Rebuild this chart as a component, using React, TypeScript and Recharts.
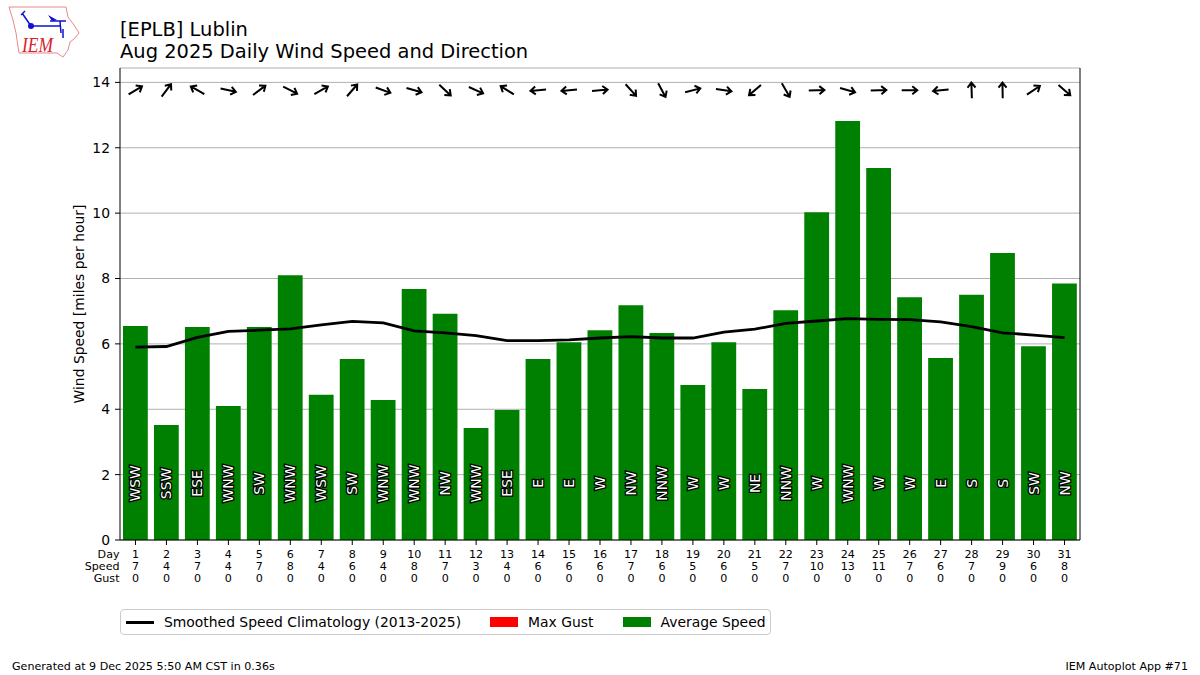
import React from 'react';
import { ComposedChart, Bar, Line, XAxis, YAxis, CartesianGrid, Legend } from 'recharts';

const FONT = '"DejaVu Sans", sans-serif';

const days = [1, 2, 3, 4, 5, 6, 7, 8, 9, 10, 11, 12, 13, 14, 15, 16, 17, 18, 19, 20, 21, 22, 23, 24, 25, 26, 27, 28, 29, 30, 31];
const avgSpeed = [6.55, 3.52, 6.52, 4.1, 6.52, 8.1, 4.44, 5.54, 4.28, 7.68, 6.92, 3.43, 3.98, 5.54, 6.05, 6.42, 7.18, 6.33, 4.74, 6.05, 4.62, 7.03, 10.03, 12.82, 11.38, 7.43, 5.57, 7.5, 8.78, 5.93, 7.85];
const maxGust = [0, 0, 0, 0, 0, 0, 0, 0, 0, 0, 0, 0, 0, 0, 0, 0, 0, 0, 0, 0, 0, 0, 0, 0, 0, 0, 0, 0, 0, 0, 0];
const climatology = [5.9, 5.92, 6.2, 6.38, 6.42, 6.46, 6.58, 6.69, 6.64, 6.4, 6.34, 6.25, 6.1, 6.1, 6.12, 6.18, 6.22, 6.18, 6.18, 6.36, 6.45, 6.63, 6.7, 6.77, 6.75, 6.74, 6.67, 6.53, 6.34, 6.27, 6.19];
const speedRow = [7, 4, 7, 4, 7, 8, 4, 6, 4, 8, 7, 3, 4, 6, 6, 6, 7, 6, 5, 6, 5, 7, 10, 13, 11, 7, 6, 7, 9, 6, 8];
const gustRow = [0, 0, 0, 0, 0, 0, 0, 0, 0, 0, 0, 0, 0, 0, 0, 0, 0, 0, 0, 0, 0, 0, 0, 0, 0, 0, 0, 0, 0, 0, 0];
const dirLabels = ['WSW', 'SSW', 'ESE', 'WNW', 'SW', 'WNW', 'WSW', 'SW', 'WNW', 'WNW', 'NW', 'WNW', 'ESE', 'E', 'E', 'W', 'NW', 'NNW', 'W', 'W', 'NE', 'NNW', 'W', 'WNW', 'W', 'W', 'E', 'S', 'S', 'SW', 'NW'];
// heading of each arrow, degrees counter-clockwise from east
const arrowAngles = [31, 53, 150, -12, 37, -27, 30, 49, -20, -16, -43, -24, 148, 185, 185, 5, -48, -62, 14, -8, 220, -60, 2, -16, 2, 0, 186, 92, 91, 34, -41];
const yTicks = [0, 2, 4, 6, 8, 10, 12, 14];
const rowNames = ['Day', 'Speed', 'Gust'];
const legendOrder = ['Smoothed Speed Climatology (2013-2025)', 'Max Gust', 'Average Speed'];

const Y_MAX = 14.44;
const ARROW_Y = 13.76;
const LABEL_Y = 1.73;

const data = days.map((day, i) => ({
  day,
  avg: avgSpeed[i],
  gust: maxGust[i],
  clim: climatology[i],
  speedRow: speedRow[i],
  gustRow: gustRow[i],
  dir: dirLabels[i],
  angle: arrowAngles[i],
  arrowY: ARROW_Y,
  labelY: LABEL_Y,
}));

const DayTick = (props: any) => {
  const { x, y, index, payload } = props;
  const row = data[index];
  const vals = [payload.value, row.speedRow, row.gustRow];
  return (
    <g fontFamily={FONT} fontSize={11.1} fill="#000">
      {vals.map((v, i) => (
        <text key={i} x={x} y={y + 11 + i * 12} textAnchor="middle">{v}</text>
      ))}
      {index === 0 && rowNames.map((n, i) => (
        <text key={n} x={119.5} y={y + 11 + i * 12} textAnchor="end">{n}</text>
      ))}
    </g>
  );
};

const Arrow = (props: any) => {
  const { cx, cy, index, payload } = props;
  return (
    <g key={`arrow-${index}`} transform={`translate(${cx},${cy}) rotate(${-payload.angle})`}>
      <path d="M-8 0 L7.6 0 M2.6 -4 L7.6 0 L2.6 4" fill="none" stroke="#000" strokeWidth={2} />
    </g>
  );
};

const DirLabel = (props: any) => {
  const { cx, cy, index, payload } = props;
  return (
    <text
      key={`dir-${index}`}
      transform={`translate(${cx},${cy}) rotate(-90)`}
      textAnchor="middle"
      dominantBaseline="central"
      fontFamily={FONT}
      fontSize={13.9}
      fill="#fff"
      stroke="#000"
      strokeWidth={2.6}
      paintOrder="stroke"
    >
      {payload.dir}
    </text>
  );
};

const LegendBox = ({ payload }: any) => {
  const items = legendOrder.map((n) => (payload || []).find((p: any) => p.value === n)).filter(Boolean);
  return (
    <div style={{ display: 'flex', alignItems: 'center', height: 24, width: 649, background: '#fff', border: '1px solid #ccc', borderRadius: 4, fontFamily: FONT, fontSize: 13.9, color: '#000', whiteSpace: 'nowrap' }}>
      {items.map((p: any, i: number) => (
        <div key={p.value} style={{ display: 'flex', alignItems: 'center', marginLeft: i === 0 ? 5 : 29 }}>
          {i === 0
            ? <div style={{ width: 28, height: 3, background: '#000' }} />
            : <div style={{ width: 28, height: 10, background: p.color }} />}
          <span style={{ marginLeft: 10 }}>{p.value}</span>
        </div>
      ))}
    </div>
  );
};

const Logo = () => (
  <svg width={90} height={62} style={{ position: 'absolute', left: 0, top: 0 }}>
    <path d="M9 7 L66 7 L68 17 L74 25 L79 33 L74 39 L70 42 L68 50 L63 57 L57 53 L19 53 L16 33 L13 20 Z" fill="#fff" stroke="#e58a8a" strokeWidth={1} />
    <path d="M31 26 L60 26 M31 26 L22 13 M21 15 L25 11 M50 21 L66 21 M60 21 L61 33 M63 29 L63 38" fill="none" stroke="#1010d0" strokeWidth={1.5} />
    <path d="M48 15 L57 20 L52 21 Z" fill="#1010d0" />
    <circle cx={31} cy={26} r={3} fill="#1010d0" />
    <text x={22} y={52} fontFamily='"Liberation Serif", serif' fontStyle="italic" fontSize={21} textLength={31} lengthAdjust="spacingAndGlyphs" fill="#d8202a">IEM</text>
  </svg>
);

export default function App() {
  return (
    <div style={{ position: 'absolute', left: 0, top: 0, width: 1200, height: 675, background: '#fff', fontFamily: FONT, color: '#000' }}>
      <Logo />
      <div style={{ position: 'absolute', left: 120, top: 19, fontSize: 19.47, lineHeight: '22px', whiteSpace: 'nowrap' }}>
        [EPLB] Lublin<br />Aug 2025 Daily Wind Speed and Direction
      </div>
      <ComposedChart
        width={1200}
        height={675}
        data={data}
        margin={{ top: 68, right: 119, bottom: 85, left: 79 }}
        barSize={24.8}
      >
        <XAxis dataKey="day" interval={0} height={50} tick={<DayTick />} tickSize={5} tickLine={{ stroke: '#000' }} axisLine={{ stroke: '#000', strokeWidth: 1 }} />
        <XAxis xAxisId="top" dataKey="day" orientation="top" height={0} tick={false} tickLine={false} axisLine={{ stroke: '#000', strokeWidth: 1 }} />
        <YAxis
          domain={[0, Y_MAX]}
          ticks={yTicks}
          width={41}
          interval={0}
          allowDataOverflow
          tick={{ fill: '#000', fontSize: 13.9, fontFamily: FONT }}
          tickSize={5}
          tickMargin={5}
          tickLine={{ stroke: '#000' }}
          axisLine={{ stroke: '#000', strokeWidth: 1 }}
          label={{ value: 'Wind Speed [miles per hour]', angle: -90, position: 'insideLeft', offset: 0, textAnchor: 'middle', fill: '#000', fontSize: 13.9, fontFamily: FONT }}
        />
        <YAxis yAxisId="right" orientation="right" domain={[0, Y_MAX]} width={1} tick={false} tickLine={false} axisLine={{ stroke: '#000', strokeWidth: 1 }} />
        <Bar dataKey="gust" name="Max Gust" stackId="a" fill="#ff0000" isAnimationActive={false} />
        <Bar dataKey="avg" name="Average Speed" stackId="a" fill="#008000" isAnimationActive={false} />
        <CartesianGrid horizontal vertical={false} stroke="#b0b0b0" strokeWidth={1} />
        <Line dataKey="clim" name="Smoothed Speed Climatology (2013-2025)" stroke="#000" strokeWidth={2.78} dot={false} isAnimationActive={false} />
        <Line dataKey="arrowY" stroke="none" dot={Arrow} legendType="none" isAnimationActive={false} />
        <Line dataKey="labelY" stroke="none" dot={DirLabel} legendType="none" isAnimationActive={false} />
        <Legend
          layout="horizontal"
          verticalAlign="middle"
          align="center"
          content={<LegendBox />}
          wrapperStyle={{ position: 'absolute', left: 120, top: 609, width: 651, height: 26 }}
        />
      </ComposedChart>
      <div style={{ position: 'absolute', left: 12, top: 660, fontSize: 11.1, whiteSpace: 'nowrap' }}>Generated at 9 Dec 2025 5:50 AM CST in 0.36s</div>
      <div style={{ position: 'absolute', right: 12, top: 660, fontSize: 11.1, whiteSpace: 'nowrap' }}>IEM Autoplot App #71</div>
    </div>
  );
}
